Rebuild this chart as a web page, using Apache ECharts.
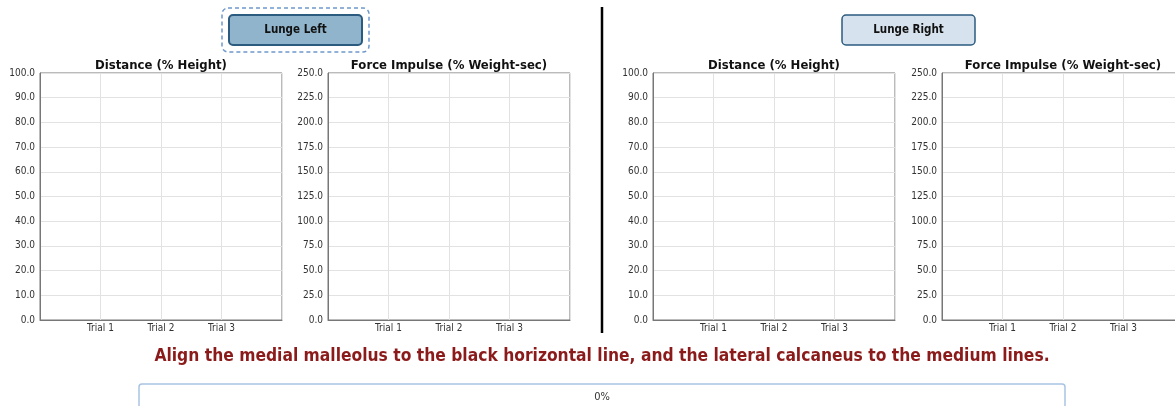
<!DOCTYPE html>
<html>
<head>
<meta charset="utf-8">
<script src="https://cdn.jsdelivr.net/npm/echarts@6/dist/echarts.min.js"></script>
<style>
  html, body { margin: 0; padding: 0; background: #fff; overflow: hidden; }
  /* wider than the window so the last panel is cut off at the right edge */
  #chart { width: 1200px; height: 406px; }
</style>
</head>
<body>
<div id="chart"></div>
<script>
// chart data (no trials recorded yet)
const trials = ['', 'Trial 1', 'Trial 2', 'Trial 3', ''];
const leftDistance = [];
const leftImpulse = [];
const rightDistance = [];
const rightImpulse = [];

const panelTitles = ['Distance (% Height)', 'Force Impulse (% Weight-sec)', 'Distance (% Height)', 'Force Impulse (% Weight-sec)'];
const panelMax = [100, 250, 100, 250];
const panelStep = [10, 25, 10, 25];
const panelData = [leftDistance, leftImpulse, rightDistance, rightImpulse];

const buttonLabels = ['Lunge Left', 'Lunge Right'];
const instruction = 'Align the medial malleolus to the black horizontal line, and the lateral calcaneus to the medium lines.';
const progressText = '0%';

const FONT = '"DejaVu Sans Condensed", "DejaVu Sans", sans-serif';
const gridLefts = [40, 328, 653, 942];
const gridWidth = 242;

const chart = echarts.init(document.getElementById('chart'));

const option = {
  animation: false,
  title: panelTitles.map((t, i) => ({
    text: t,
    left: gridLefts[i] + gridWidth / 2,
    top: 59,
    textAlign: 'center',
    padding: 0,
    textStyle: { fontFamily: FONT, fontSize: 13, fontWeight: 'bold', color: '#111' }
  })),
  grid: gridLefts.map(l => ({
    left: l, top: 73, width: gridWidth, height: 247,
    show: true, borderColor: '#777', borderWidth: 1, backgroundColor: '#fff'
  })),
  xAxis: gridLefts.map((l, i) => ({
    type: 'category',
    gridIndex: i,
    data: trials,
    boundaryGap: false,
    axisLine: { lineStyle: { color: '#777' } },
    axisTick: { show: false },
    axisLabel: { interval: 0, margin: 3, fontFamily: FONT, fontSize: 10, color: '#333' },
    splitLine: { show: true, lineStyle: { color: '#e2e2e2' } }
  })),
  yAxis: gridLefts.map((l, i) => ({
    type: 'value',
    gridIndex: i,
    min: 0,
    max: panelMax[i],
    interval: panelStep[i],
    axisLine: { show: true, lineStyle: { color: '#777' } },
    axisTick: { show: false },
    axisLabel: { margin: 5, fontFamily: FONT, fontSize: 10, color: '#333', formatter: v => v.toFixed(1) },
    splitLine: { show: true, lineStyle: { color: '#e2e2e2' } }
  })),
  series: panelData.map((d, i) => ({
    type: 'bar',
    xAxisIndex: i,
    yAxisIndex: i,
    data: d
  })),
  graphic: [
    // focus outline round the active button
    { type: 'rect', shape: { x: 222, y: 8, width: 147, height: 44, r: 6 },
      style: { fill: 'none', stroke: '#6e98cc', lineWidth: 1.5, lineDash: [4, 3] } },
    { type: 'rect', shape: { x: 229, y: 15, width: 133, height: 30, r: 4 },
      style: { fill: '#8fb4cc', stroke: '#2c5b80', lineWidth: 2 } },
    { type: 'text', x: 295.5, y: 30, style: { text: buttonLabels[0], align: 'center', verticalAlign: 'middle',
      font: 'bold 11.5px ' + FONT, fill: '#111' } },
    { type: 'rect', shape: { x: 842, y: 15, width: 133, height: 30, r: 4 },
      style: { fill: '#d6e3ee', stroke: '#2c5b80', lineWidth: 1.5 } },
    { type: 'text', x: 908.5, y: 30, style: { text: buttonLabels[1], align: 'center', verticalAlign: 'middle',
      font: 'bold 11.5px ' + FONT, fill: '#111' } },
    // divider between left and right
    { type: 'line', shape: { x1: 602, y1: 7, x2: 602, y2: 333 },
      style: { stroke: '#000', lineWidth: 2.5 } },
    { type: 'text', x: 602, y: 357, style: { text: instruction, align: 'center', verticalAlign: 'middle',
      font: 'bold 17.3px ' + FONT, fill: '#8b1a1a' } },
    { type: 'rect', shape: { x: 139, y: 384, width: 926, height: 40, r: 3 },
      style: { fill: '#fff', stroke: '#a9c3e3', lineWidth: 1.5 } },
    { type: 'text', x: 602, y: 397, style: { text: progressText, align: 'center', verticalAlign: 'middle',
      font: '11px ' + FONT, fill: '#333' } }
  ]
};

chart.setOption(option);
</script>
</body>
</html>
